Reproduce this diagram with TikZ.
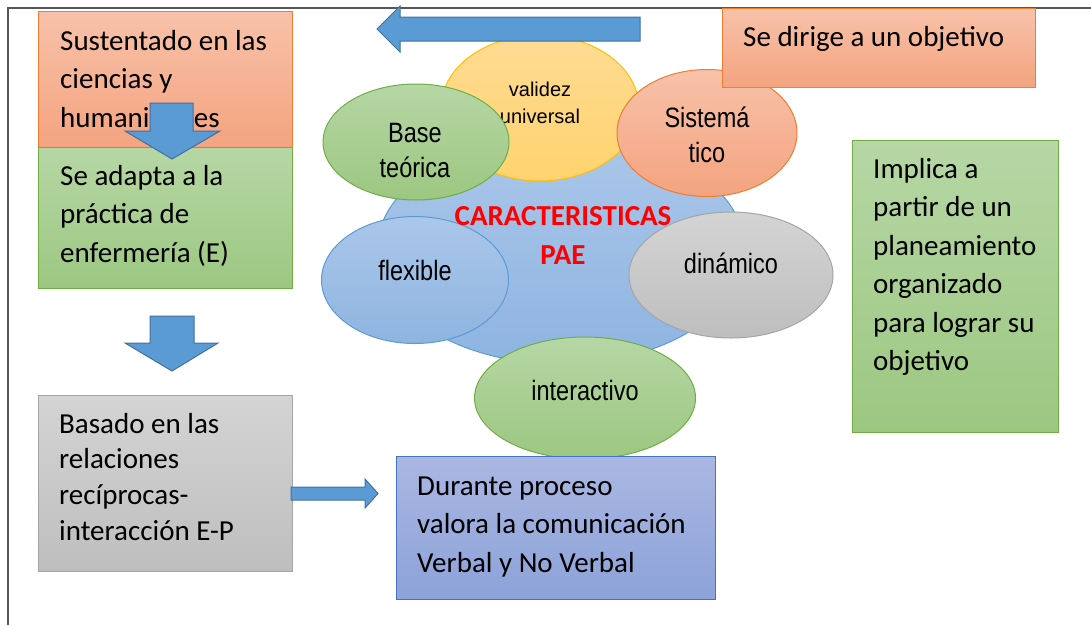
\documentclass[tikz,border=0pt]{standalone}
\usepackage{fontspec}
\usepackage{graphicx}
\setmainfont{Carlito}
\newfontfamily\arialf{Liberation Sans}
\usetikzlibrary{shapes.geometric}
\definecolor{orT}{HTML}{F8C2AA}
\definecolor{orBt}{HTML}{F4A37F}
\definecolor{orLn}{HTML}{ED7D31}
\definecolor{grT}{HTML}{B6D7A5}
\definecolor{grBt}{HTML}{9CC781}
\definecolor{grLn}{HTML}{70AD47}
\definecolor{gyT}{HTML}{D4D4D4}
\definecolor{gyBt}{HTML}{BEBEBE}
\definecolor{gyLn}{HTML}{A5A5A5}
\definecolor{bxT}{HTML}{AAB7E2}
\definecolor{bxBt}{HTML}{8CA2D9}
\definecolor{bxLn}{HTML}{4472C4}
\definecolor{ylT}{HTML}{FFDB94}
\definecolor{ylBt}{HTML}{FFD36E}
\definecolor{ylLn}{HTML}{FFC000}
\definecolor{blT}{HTML}{ABC7E9}
\definecolor{blBt}{HTML}{8EB4E1}
\definecolor{blLn}{HTML}{5B9BD5}
\definecolor{arF}{HTML}{5B9BD5}
\definecolor{arLn}{HTML}{41719C}
\definecolor{frame}{HTML}{555555}
\tikzset{
  boxbase/.style={rectangle, inner sep=0pt, line width=1pt, anchor=north west},
  obox/.style={boxbase, draw=orLn, top color=orT, bottom color=orBt},
  gbox/.style={boxbase, draw=grLn, top color=grT, bottom color=grBt},
  graybox/.style={boxbase, draw=gyLn, top color=gyT, bottom color=gyBt},
  bbox/.style={boxbase, draw=bxLn, top color=bxT, bottom color=bxBt},
  ellbase/.style={ellipse, inner sep=0pt, line width=1pt},
  oell/.style={ellbase, draw=orLn, top color=orT, bottom color=orBt},
  gell/.style={ellbase, draw=grLn, top color=grT, bottom color=grBt},
  yell/.style={ellbase, draw=ylLn, top color=ylT, bottom color=ylBt},
  bell/.style={ellbase, draw=blLn, top color=blT, bottom color=blBt},
  grell/.style={ellbase, draw=gyLn, top color=gyT, bottom color=gyBt},
  blockarrow/.style={fill=arF, draw=arLn, line width=1pt, line join=miter},
  btxt/.style={inner sep=0pt, anchor=base west, font=\fontsize{29}{38.5}\selectfont},
  etxt/.style={inner sep=0pt, anchor=base, font=\arialf\fontsize{28}{35}\selectfont},
}
\begin{document}
\begin{tikzpicture}[x=1pt,y=-1pt]
\useasboundingbox (0,0) rectangle (1091,625);
% page frame
\coordinate (fTL) at (8,8);
\draw[frame, line width=1.5pt] (1091,8) -- (fTL) -- (8,625);

% left column
\node[obox, minimum width=254pt, minimum height=137pt] (sust) at (38,11) {};
\node[btxt] (sustT) at (60,50) {\begin{tabular}[t]{@{}l@{}}Sustentado en las\\ciencias y\\humanidades\end{tabular}};
\node[gbox, minimum width=254pt, minimum height=141pt] (adap) at (38,147) {};
\node[btxt] (adapT) at (60,185) {\begin{tabular}[t]{@{}l@{}}Se adapta a la\\práctica de\\enfermería (E)\end{tabular}};
\draw[blockarrow] (150,103) -- (193,103) -- (193,131) -- (220,131) -- (172,159) -- (125,131) -- (150,131) -- cycle;

\draw[blockarrow] (150,316) -- (194,316) -- (194,343) -- (218,343) -- (172,371) -- (125,343) -- (150,343) -- cycle;
\node[graybox, minimum width=254pt, minimum height=176pt] (basa) at (38,395) {};
\node[btxt, font=\fontsize{29}{35.7}\selectfont] (basaT) at (59,433) {\begin{tabular}[t]{@{}l@{}}Basado en las\\relaciones\\recíprocas-\\interacción E-P\end{tabular}};
\draw[blockarrow] (291,487) -- (365,487) -- (365,479) -- (378,493.5) -- (365,508) -- (365,500) -- (291,500) -- cycle;

% central cluster
\node[bell, minimum width=368pt, minimum height=228pt] (cent) at (561,250) {};
\node[yell, minimum width=198pt, minimum height=146pt] (vali) at (540,108) {};
\node[etxt, font=\arialf\fontsize{20}{27}\selectfont] (valiT) at (540,96) {\begin{tabular}[t]{@{}c@{}}validez\\universal\end{tabular}};
\draw[blockarrow] (640,17) -- (400,17) -- (400,6) -- (377,29) -- (400,52) -- (400,41) -- (640,41) -- cycle;
\node[gell, minimum width=186pt, minimum height=116pt] (base) at (416,142) {};
\node[etxt] (baseT) at (415,142) {\scalebox{0.84}[1]{\begin{tabular}[t]{@{}c@{}}Base\\teórica\end{tabular}}};
\node[oell, minimum width=180pt, minimum height=127pt] (sist) at (707,133) {};
\node[etxt] (sistT) at (707,127) {\scalebox{0.84}[1]{\begin{tabular}[t]{@{}c@{}}Sistemá\\tico\end{tabular}}};
\node[obox, minimum width=313pt, minimum height=79pt] (diri) at (722,8) {};
\node[btxt] (diriT) at (743,46) {Se dirige a un objetivo};
\node[bell, minimum width=187pt, minimum height=127pt] (flex) at (415,280) {};
\node[etxt] (flexT) at (415,280) {\scalebox{0.84}[1]{flexible}};
\node[grell, minimum width=204pt, minimum height=126pt] (dina) at (731,275) {};
\node[etxt] (dinaT) at (731,273) {\scalebox{0.84}[1]{dinámico}};
\node[inner sep=0pt, anchor=base, text=red, font=\bfseries\fontsize{29}{39}\selectfont] (cara) at (563,225) {\begin{tabular}[t]{@{}c@{}}CARACTERISTICAS\\PAE\end{tabular}};
\node[gell, minimum width=221pt, minimum height=122pt] (inte) at (585,398) {};
\node[etxt] (inteT) at (585,400) {\scalebox{0.84}[1]{interactivo}};
\node[bbox, minimum width=319pt, minimum height=143pt] (dura) at (396,456) {};
\node[btxt] (duraT) at (417,495) {\begin{tabular}[t]{@{}l@{}}Durante proceso\\valora la comunicación\\Verbal y No Verbal\end{tabular}};

% right box
\node[gbox, minimum width=206pt, minimum height=292pt] (impl) at (852,140) {};
\node[btxt] (implT) at (873,178) {\begin{tabular}[t]{@{}l@{}}Implica a\\partir de un\\planeamiento\\organizado\\para lograr su\\objetivo\end{tabular}};
\end{tikzpicture}
\end{document}
